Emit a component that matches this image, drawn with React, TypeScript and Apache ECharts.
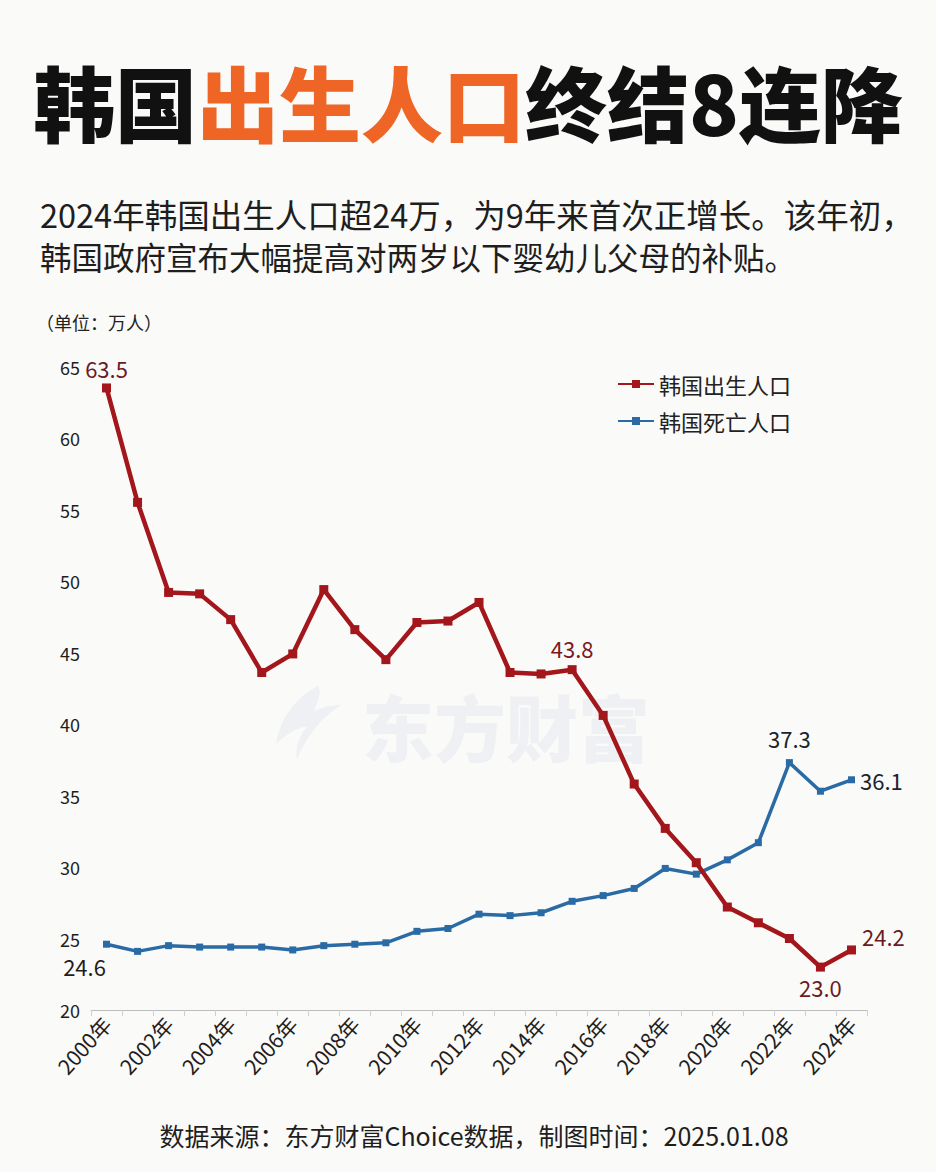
import React, { useEffect, useRef } from "react";
import * as echarts from "echarts";

const years = [
  "2000年", "2001年", "2002年", "2003年", "2004年", "2005年", "2006年", "2007年", "2008年",
  "2009年", "2010年", "2011年", "2012年", "2013年", "2014年", "2015年", "2016年", "2017年",
  "2018年", "2019年", "2020年", "2021年", "2022年", "2023年", "2024年",
];
const births = [
  63.5, 55.5, 49.2, 49.1, 47.3, 43.6, 44.9, 49.4, 46.6, 44.5, 47.1, 47.2, 48.5,
  43.6, 43.5, 43.8, 40.6, 35.8, 32.7, 30.3, 27.2, 26.1, 25.0, 23.0, 24.2,
];
const deaths = [
  24.6, 24.1, 24.5, 24.4, 24.4, 24.4, 24.2, 24.5, 24.6, 24.7, 25.5, 25.7, 26.7,
  26.6, 26.8, 27.6, 28.0, 28.5, 29.9, 29.5, 30.5, 31.7, 37.3, 35.3, 36.1,
];
const yTicks = { min: 20, max: 65, interval: 5 };
const seriesNames = ["韩国出生人口", "韩国死亡人口"];
const titleParts = ["韩国", "出生人口", "终结8连降"];
const subtitleLines = [
  "2024年韩国出生人口超24万，为9年来首次正增长。该年初，",
  "韩国政府宣布大幅提高对两岁以下婴幼儿父母的补贴。",
];
const unitText = "（单位：万人）";
const sourceText = "数据来源：东方财富Choice数据，制图时间：2025.01.08";
const watermarkText = "东方财富";

const RED = "#A3161B";
const BLUE = "#2A6BA6";
const FONT = "'Noto Sans CJK SC', 'Noto Sans', sans-serif";

// label placement for highlighted points (index -> label config)
const birthLabels: Record<number, any> = {
  0: { position: "top", distance: 4, color: "#6B1A26" },
  15: { position: "top", distance: 6, color: "#7A1A1E" },
  23: { position: "bottom", distance: 4, color: "#6B1A1E" },
  24: { position: "right", distance: 6, offset: [0, -14], color: "#6B1A1E" },
};
const deathLabels: Record<number, any> = {
  0: { position: "bottom", distance: 7, offset: [-22, 0], color: "#1E1E1E" },
  22: { position: "top", distance: 10, color: "#1A2230" },
  24: { position: "right", distance: 5, color: "#1A2230" },
};

function buildData(values: number[], labels: Record<number, any>) {
  return values.map((v, i) =>
    labels[i]
      ? {
          value: v,
          label: {
            show: true,
            fontSize: 22,
            fontFamily: FONT,
            formatter: (p: any) => Number(p.value).toFixed(1),
            ...labels[i],
          },
        }
      : v
  );
}

export default function App() {
  const ref = useRef<HTMLDivElement>(null);
  useEffect(() => {
    document.body.style.margin = "0";
    if (!ref.current) return;
    echarts.graphic.registerShape(
      "wmlogo",
      echarts.graphic.extendPath(
        "M 40 0 C 20 10 4 30 0 55 C 10 45 20 40 30 38 C 22 48 18 58 20 70 C 28 50 42 30 62 18 C 52 18 44 20 36 24 C 40 14 44 6 40 0 Z",
        {}
      ) as any
    );
    const chart = echarts.init(ref.current, undefined, { renderer: "svg" });
    const option: any = {
      animation: false,
      backgroundColor: "#FAFAF9",
      textStyle: { fontFamily: FONT },
      grid: { left: 91, right: 69, top: 366.5, bottom: 162 },
      legend: {
        orient: "vertical",
        left: 612,
        top: 368,
        itemWidth: 36,
        itemHeight: 10,
        itemGap: 15,
        textStyle: { fontSize: 22, color: "#222", fontFamily: FONT },
        data: seriesNames,
      },
      graphic: [
        {
          type: "wmlogo",
          x: 276,
          y: 686,
          scaleX: 1.05,
          scaleY: 1.05,
          z: -10,
          style: { fill: "#EEF0F3" },
        },
        {
          type: "text",
          left: 362,
          top: 688,
          z: -10,
          style: {
            text: watermarkText,
            fontSize: 72,
            fontWeight: 900,
            fontFamily: FONT,
            fill: "#EEF0F3",
          },
        },
        {
          type: "text",
          x: 468,
          y: 100,
          style: {
            text: `{a|${titleParts[0]}}{b|${titleParts[1]}}{a|${titleParts[2]}}`,
            align: "center",
            verticalAlign: "middle",
            rich: {
              a: { fontSize: 82, fontWeight: 900, fontFamily: FONT, fill: "#111", color: "#111" },
              b: { fontSize: 82, fontWeight: 900, fontFamily: FONT, fill: "#EE6526", color: "#EE6526" },
            },
          },
        },
        {
          type: "text",
          x: 40,
          y: 213,
          style: {
            text: subtitleLines[0],
            fontSize: 32.5,
            fontFamily: FONT,
            fill: "#1E1E1E",
            verticalAlign: "middle",
          },
        },
        {
          type: "text",
          x: 40,
          y: 256,
          style: {
            text: subtitleLines[1],
            fontSize: 31.5,
            fontFamily: FONT,
            fill: "#1E1E1E",
            verticalAlign: "middle",
          },
        },
        {
          type: "text",
          x: 36,
          y: 322,
          style: {
            text: unitText,
            fontSize: 18,
            fontFamily: FONT,
            fill: "#222",
            verticalAlign: "middle",
          },
        },
        {
          type: "text",
          x: 474,
          y: 1135,
          style: {
            text: sourceText,
            fontSize: 25,
            fontFamily: FONT,
            fill: "#1E1E1E",
            align: "center",
            verticalAlign: "middle",
          },
        },
      ],
      xAxis: {
        type: "category",
        data: years,
        boundaryGap: true,
        axisLine: { show: true, lineStyle: { color: "#BDBDBD", width: 1 } },
        axisTick: { show: true, interval: 0, length: 6, lineStyle: { color: "#CFCFCF" } },
        axisLabel: {
          interval: 1,
          rotate: 48,
          fontSize: 21,
          color: "#1E1E1E",
          fontFamily: FONT,
          margin: 10,
        },
        splitLine: { show: false },
      },
      yAxis: {
        type: "value",
        min: yTicks.min,
        max: yTicks.max,
        interval: yTicks.interval,
        axisLine: { show: false },
        axisTick: { show: false },
        splitLine: { show: false },
        axisLabel: { fontSize: 18, color: "#1E1E1E", fontFamily: FONT, margin: 11 },
      },
      series: [
        {
          name: seriesNames[0],
          type: "line",
          data: buildData(births, birthLabels),
          symbol: "rect",
          symbolSize: 9,
          lineStyle: { color: RED, width: 4.5 },
          itemStyle: { color: RED },
          z: 3,
        },
        {
          name: seriesNames[1],
          type: "line",
          data: buildData(deaths, deathLabels),
          symbol: "rect",
          symbolSize: 7,
          lineStyle: { color: BLUE, width: 3.5 },
          itemStyle: { color: BLUE },
          z: 2,
        },
      ],
    };
    chart.setOption(option);
    return () => chart.dispose();
  }, []);
  return <div ref={ref} style={{ width: 936, height: 1172 }} />;
}
